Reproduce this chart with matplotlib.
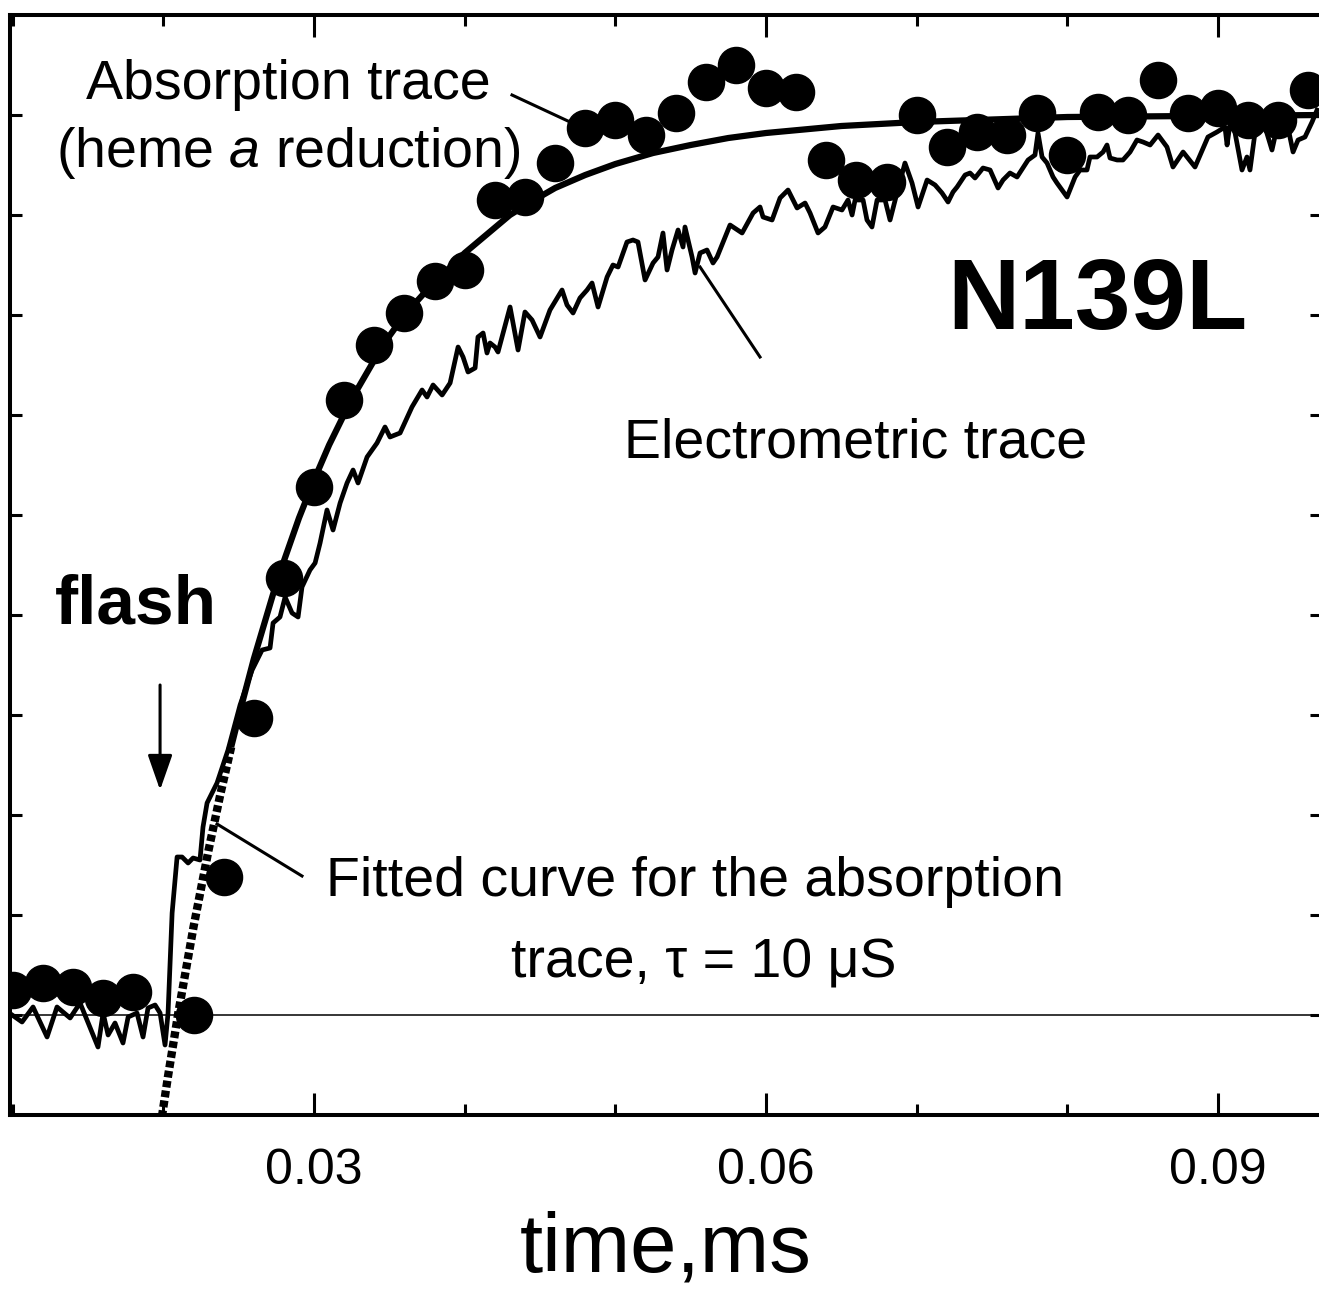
from matplotlib import pyplot as plt
import numpy as np

plt.rcParams['font.family'] = ['Liberation Sans', 'DejaVu Sans']
plt.rcParams['mathtext.fontset'] = 'custom'
plt.rcParams['mathtext.rm'] = 'Liberation Sans'
plt.rcParams['mathtext.it'] = 'Liberation Sans:italic'

# absorption trace, heme a reduction (dots)
abs_time = [0.010, 0.012, 0.014, 0.016, 0.018, 0.022, 0.024, 0.026, 0.028, 0.030,
            0.032, 0.034, 0.036, 0.038, 0.040, 0.042, 0.044, 0.046, 0.048, 0.050,
            0.052, 0.054, 0.056, 0.058, 0.060, 0.062, 0.064, 0.066, 0.068, 0.070,
            0.072, 0.074, 0.076, 0.078, 0.080, 0.082, 0.084, 0.086, 0.088, 0.090,
            0.092, 0.094, 0.096]
abs_signal = [0.025, 0.032, 0.028, 0.017, 0.023, 0.000, 0.138, 0.297, 0.437, 0.528,
              0.615, 0.670, 0.702, 0.734, 0.745, 0.815, 0.818, 0.852, 0.887, 0.895,
              0.880, 0.902, 0.933, 0.950, 0.927, 0.923, 0.855, 0.835, 0.833, 0.900,
              0.868, 0.883, 0.880, 0.902, 0.860, 0.903, 0.900, 0.935, 0.902, 0.907,
              0.895, 0.895, 0.925]

# electrometric trace
el_time = [0.00996, 0.01062, 0.01135, 0.01228, 0.01294, 0.01381, 0.01447, 0.01566, 0.01600, 0.01633,
           0.01679, 0.01732, 0.01766, 0.01825, 0.01865, 0.01898, 0.01945, 0.01978, 0.02011, 0.02031,
           0.02058, 0.02091, 0.02124, 0.02164, 0.02197, 0.02243, 0.02263, 0.02290, 0.02356, 0.02429,
           0.02509, 0.02589, 0.02655, 0.02708, 0.02728, 0.02774, 0.02808, 0.02854, 0.02894, 0.02920,
           0.02973, 0.03007, 0.03040, 0.03086, 0.03126, 0.03173, 0.03219, 0.03259, 0.03292, 0.03352,
           0.03418, 0.03471, 0.03504, 0.03571, 0.03650, 0.03717, 0.03750, 0.03790, 0.03850, 0.03903,
           0.03956, 0.03989, 0.04022, 0.04069, 0.04088, 0.04122, 0.04148, 0.04168, 0.04201, 0.04221,
           0.04301, 0.04354, 0.04400, 0.04447, 0.04500, 0.04566, 0.04646, 0.04679, 0.04719, 0.04765,
           0.04812, 0.04845, 0.04885, 0.04945, 0.04984, 0.05018, 0.05077, 0.05117, 0.05150, 0.05197,
           0.05250, 0.05283, 0.05316, 0.05343, 0.05376, 0.05416, 0.05449, 0.05462, 0.05509, 0.05529,
           0.05562, 0.05608, 0.05648, 0.05675, 0.05761, 0.05841, 0.05914, 0.05960, 0.05980, 0.06040,
           0.06093, 0.06146, 0.06206, 0.06259, 0.06292, 0.06345, 0.06391, 0.06445, 0.06504, 0.06544,
           0.06571, 0.06591, 0.06644, 0.06670, 0.06703, 0.06737, 0.06790, 0.06823, 0.06869, 0.06922,
           0.06969, 0.07009, 0.07069, 0.07122, 0.07168, 0.07208, 0.07241, 0.07268, 0.07321, 0.07354,
           0.07387, 0.07440, 0.07487, 0.07540, 0.07573, 0.07619, 0.07666, 0.07739, 0.07785, 0.07805,
           0.07832, 0.07865, 0.07905, 0.07931, 0.07998, 0.08051, 0.08084, 0.08130, 0.08150, 0.08197,
           0.08237, 0.08263, 0.08283, 0.08330, 0.08369, 0.08416, 0.08462, 0.08502, 0.08549, 0.08602,
           0.08661, 0.08701, 0.08768, 0.08847, 0.08933, 0.08993, 0.09046, 0.09060, 0.09080, 0.09113,
           0.09159, 0.09192, 0.09212, 0.09245, 0.09312, 0.09358, 0.09398, 0.09458, 0.09498, 0.09531,
           0.09577, 0.09624, 0.09657]
el_signal = [0.000, -0.007, 0.008, -0.022, 0.008, -0.003, 0.012, -0.032, 0.002, -0.020,
             -0.008, -0.028, -0.002, 0.002, -0.022, 0.007, 0.010, 0.002, -0.030, 0.002,
             0.102, 0.158, 0.158, 0.152, 0.157, 0.155, 0.188, 0.212, 0.232, 0.265,
             0.310, 0.345, 0.365, 0.367, 0.392, 0.398, 0.418, 0.402, 0.398, 0.428,
             0.445, 0.452, 0.472, 0.505, 0.485, 0.512, 0.532, 0.545, 0.532, 0.558,
             0.572, 0.588, 0.578, 0.582, 0.608, 0.625, 0.618, 0.630, 0.620, 0.632,
             0.668, 0.658, 0.643, 0.647, 0.678, 0.682, 0.662, 0.672, 0.668, 0.663,
             0.708, 0.665, 0.703, 0.695, 0.678, 0.705, 0.725, 0.710, 0.702, 0.717,
             0.725, 0.732, 0.708, 0.738, 0.750, 0.748, 0.773, 0.775, 0.773, 0.735,
             0.752, 0.758, 0.782, 0.745, 0.765, 0.785, 0.768, 0.788, 0.758, 0.742,
             0.762, 0.765, 0.752, 0.758, 0.790, 0.782, 0.802, 0.808, 0.798, 0.795,
             0.817, 0.825, 0.807, 0.812, 0.802, 0.782, 0.788, 0.808, 0.805, 0.815,
             0.800, 0.815, 0.815, 0.795, 0.788, 0.815, 0.815, 0.795, 0.822, 0.852,
             0.832, 0.808, 0.835, 0.830, 0.822, 0.813, 0.823, 0.828, 0.840, 0.842,
             0.837, 0.847, 0.845, 0.827, 0.835, 0.842, 0.838, 0.855, 0.860, 0.882,
             0.858, 0.852, 0.838, 0.832, 0.818, 0.838, 0.845, 0.845, 0.858, 0.858,
             0.863, 0.870, 0.857, 0.855, 0.855, 0.863, 0.875, 0.873, 0.870, 0.880,
             0.868, 0.848, 0.863, 0.848, 0.878, 0.883, 0.888, 0.870, 0.892, 0.882,
             0.845, 0.858, 0.845, 0.882, 0.888, 0.865, 0.892, 0.892, 0.863, 0.875,
             0.878, 0.893, 0.905]

# fitted curve for the absorption trace (tau = 10 us)
fit_time = [0.0199, 0.0203, 0.0210, 0.0220, 0.0230, 0.0238, 0.0245, 0.0253, 0.0260, 0.0275,
            0.0280, 0.0290, 0.0300, 0.0310, 0.0325, 0.0340, 0.0350, 0.0360, 0.0375, 0.0390,
            0.0400, 0.0415, 0.0430, 0.0445, 0.0460, 0.0480, 0.0500, 0.0525, 0.0550, 0.0575,
            0.0600, 0.0650, 0.0700, 0.0800, 0.0970]
fit_signal = [-0.102, -0.062, 0.003, 0.088, 0.165, 0.222, 0.268, 0.316, 0.356, 0.432,
              0.454, 0.497, 0.535, 0.570, 0.616, 0.655, 0.679, 0.700, 0.725, 0.747,
              0.762, 0.781, 0.800, 0.814, 0.827, 0.840, 0.851, 0.862, 0.870, 0.877,
              0.882, 0.889, 0.893, 0.898, 0.900]
fit_break = 0.0245

fit_time = np.array(fit_time)
fit_signal = np.array(fit_signal)
dashed = fit_time <= fit_break
solid = fit_time >= fit_break

fig = plt.figure(figsize=(13.19, 12.97), dpi=100)
ax = fig.add_axes([10 / 1319, 1 - 1115 / 1297, 1312 / 1319, 1100 / 1297])

ax.axhline(0, color='black', lw=1.1, zorder=1)
ax.plot(fit_time[dashed], fit_signal[dashed], color='black', lw=6,
        ls=(0, (0.8, 0.4)), dash_capstyle='butt', zorder=2)
ax.plot(fit_time[solid], fit_signal[solid], color='black', lw=4.5,
        solid_capstyle='butt', solid_joinstyle='round', zorder=2)
ax.plot(el_time, el_signal, color='black', lw=3.4, solid_joinstyle='round', zorder=3)
ax.plot(abs_time, abs_signal, 'o', color='black', ms=26, zorder=4)

ax.set_xlim(0.00982, 0.0969)
ax.set_ylim(-0.1, 1.0)
ax.set_xticks([0.03, 0.06, 0.09])
ax.set_xticklabels(['0.03', '0.06', '0.09'])
ax.set_xticks(np.arange(0.01, 0.097, 0.01), minor=True)
ax.set_yticks(np.arange(0, 0.95, 0.1))
ax.tick_params(axis='x', which='major', direction='in', length=16, width=2.2,
               top=True, labelsize=36, pad=24)
ax.tick_params(axis='x', which='minor', direction='in', length=8, width=2.2, top=True)
ax.tick_params(axis='y', which='both', direction='in', length=8.5, width=2.2,
               right=True, labelleft=False)
for s in ax.spines.values():
    s.set_linewidth(2.9)

ax.set_xlabel('time,ms', fontsize=60, labelpad=12)

# annotations
ax.text(0.02827, 0.930, 'Absorption trace', fontsize=40, ha='center', va='center')
ax.text(0.02827, 0.862, '(heme $\\it{a}$ reduction)', fontsize=40, ha='center', va='center')
ax.plot([0.04314, 0.04699], [0.920, 0.893], color='black', lw=2.2)

ax.text(0.08197, 0.712, 'N139L', fontsize=72, fontweight='bold', ha='center', va='center')

ax.text(0.06597, 0.572, 'Electrometric trace', fontsize=40, ha='center', va='center')
ax.plot([0.05562, 0.05960], [0.748, 0.658], color='black', lw=2.2)

ax.text(0.01819, 0.410, 'flash', fontsize=50, fontweight='bold', ha='center', va='center')
ax.annotate('', xy=(0.01978, 0.225), xytext=(0.01978, 0.330),
            arrowprops=dict(arrowstyle='-|>,head_length=0.4,head_width=0.14',
                            color='black', lw=2.2, mutation_scale=54,
                            shrinkA=0, shrinkB=0))

ax.text(0.05529, 0.133, 'Fitted curve for the absorption', fontsize=40, ha='center', va='center')
ax.text(0.05588, 0.051, 'trace, \u03c4 = 10 \u03bcS', fontsize=40, ha='center', va='center')
ax.plot([0.02356, 0.02920], [0.191, 0.139], color='black', lw=2.2)

fig.savefig('out.png', dpi=100)
